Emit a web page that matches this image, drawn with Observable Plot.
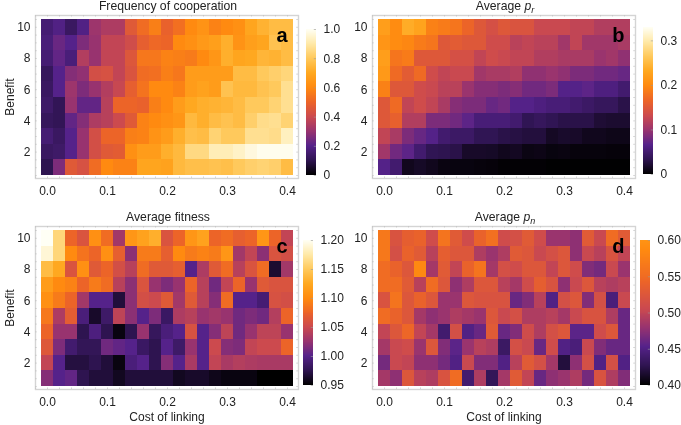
<!DOCTYPE html>
<html><head><meta charset="utf-8">
<script src="https://cdn.jsdelivr.net/npm/d3@7"></script>
<script src="https://cdn.jsdelivr.net/npm/@observablehq/plot@0.6"></script>
<style>
body{margin:0;background:#fff}
#root{position:relative;width:681px;height:425px;overflow:hidden;font-family:"Liberation Sans",sans-serif;color:#222;filter:blur(.35px)}
#root svg{position:absolute;overflow:visible;background:transparent}
.t{position:absolute;font-size:12.2px;text-align:center;white-space:nowrap}
.t sub{font-size:9px;line-height:0;font-style:italic}
</style></head><body><div id="root"></div>
<script>
const costs=[0,.02,.04,.06,.08,.1,.12,.14,.16,.18,.2,.22,.24,.26,.28,.3,.32,.34,.36,.38,.4];
const benefits=[10,9,8,7,6,5,4,3,2,1];
const cooperation=[
[.16,.19,.13,.19,.31,.34,.34,.46,.52,.57,.49,.53,.6,.63,.58,.6,.62,.69,.73,.76,.76],
[.17,.23,.2,.26,.3,.38,.38,.41,.48,.51,.5,.6,.62,.65,.67,.72,.63,.67,.69,.78,.76],
[.16,.22,.17,.35,.3,.38,.38,.45,.55,.55,.58,.57,.56,.6,.64,.72,.69,.7,.74,.73,.76],
[.12,.2,.27,.29,.42,.43,.38,.44,.52,.53,.57,.55,.66,.66,.66,.66,.76,.76,.8,.82,.84],
[.13,.2,.31,.26,.3,.35,.39,.48,.54,.6,.6,.58,.66,.68,.66,.78,.75,.75,.78,.8,.87],
[.14,.11,.3,.22,.22,.36,.5,.5,.49,.57,.6,.66,.7,.72,.73,.74,.76,.8,.8,.83,.87],
[.12,.11,.22,.27,.34,.36,.4,.46,.58,.6,.62,.64,.75,.72,.76,.78,.76,.82,.86,.87,.83],
[.16,.13,.2,.3,.42,.5,.5,.57,.58,.63,.66,.72,.77,.76,.83,.8,.8,.87,.87,.86,.93],
[.13,.14,.2,.3,.42,.46,.47,.62,.66,.66,.72,.75,.85,.85,.92,.92,.94,.97,.99,.99,.99],
[.1,.26,.46,.43,.52,.6,.58,.58,.69,.69,.68,.75,.77,.77,.78,.77,.8,.82,.83,.82,.76]];
const averagePr=[
[.22,.2,.235,.225,.19,.185,.18,.165,.15,.14,.15,.145,.145,.13,.13,.13,.125,.125,.115,.115,.115],
[.21,.2,.195,.185,.18,.15,.155,.15,.15,.135,.135,.12,.125,.12,.12,.105,.125,.105,.105,.105,.11],
[.22,.18,.185,.15,.15,.15,.14,.14,.125,.135,.13,.125,.125,.115,.115,.11,.11,.11,.1,.105,.095],
[.215,.17,.155,.17,.135,.125,.13,.13,.105,.11,.11,.115,.095,.095,.1,.095,.085,.085,.08,.08,.075],
[.19,.15,.15,.135,.13,.12,.12,.1,.09,.09,.085,.09,.08,.08,.085,.065,.065,.07,.06,.06,.05],
[.15,.17,.125,.135,.125,.11,.09,.085,.085,.075,.08,.065,.065,.06,.055,.055,.05,.045,.04,.04,.03],
[.15,.16,.115,.115,.085,.085,.08,.07,.055,.055,.055,.05,.035,.04,.035,.03,.03,.03,.022,.02,.02],
[.125,.11,.085,.075,.065,.05,.045,.045,.035,.035,.03,.028,.025,.025,.015,.018,.017,.012,.012,.01,.01],
[.105,.08,.07,.05,.035,.033,.03,.017,.017,.016,.012,.014,.008,.009,.006,.007,.005,.005,.005,.004,.004],
[.065,.05,.012,.016,.012,.007,.006,.006,.005,.004,.002,.002,.002,.002,.001,.001,.001,.001,.001,.001,.001]];
const fitness=[
[1.2,1.16,1.075,1.06,1.105,1.08,1.03,1.11,1.12,1.13,1.06,1.075,1.11,1.12,1.075,1.08,1.07,1.075,1.11,1.075,1.045],
[1.19,1.16,1.1,1.085,1.075,1.105,1.07,1.02,1.09,1.09,1.07,1.1,1.09,1.095,1.09,1.11,1.03,1.045,1.02,1.06,1.055],
[1.14,1.125,1.06,1.105,1.065,1.075,1.055,1.04,1.08,1.065,1.065,1.07,1,1.035,1.065,1.08,1.04,1.06,1.08,.965,1.03],
[1.115,1.1,1.095,1.075,1.09,1.08,1.04,1.02,1.06,1.025,1.015,1.025,1.075,1.04,1.01,1.045,1.075,1.025,1.065,1.06,1.06],
[1.105,1.09,1.075,1.03,1,1,.968,1.02,1.055,1.05,1.065,1.03,1.065,1.04,1.018,1.08,1,1,.99,1.058,1.055],
[1.088,1.035,1.068,.993,.963,.985,1.043,1.02,1,1.015,.983,1.035,1.04,1.025,1.03,1.025,1.01,1.015,1.01,1.038,1.075],
[1.075,1.025,1.025,.975,.995,.975,.955,.975,1.025,.98,.993,1,1.058,1,1.018,1.043,1.01,1.025,1.043,1.043,1.025],
[1.063,1.015,.988,.978,.978,1.01,1.005,1,.983,.975,1,.985,1.025,1,1.05,1.018,1.015,1.045,1.05,1.05,1.075],
[1.045,1,.97,.97,.975,.968,.955,.993,1,.975,1.018,1,1.033,1,1.045,1.033,1.038,1.035,1.033,1.033,1.033],
[1.018,1,1.005,.975,.968,.968,.96,.968,.968,.968,.968,.96,.963,.963,.958,.955,.955,.955,.95,.95,.95]];
const averagePn=[
[.565,.52,.535,.54,.51,.56,.53,.51,.54,.555,.51,.515,.53,.51,.48,.48,.475,.53,.505,.55,.53],
[.565,.515,.54,.53,.495,.535,.525,.525,.49,.48,.49,.53,.525,.505,.515,.525,.475,.505,.495,.52,.5],
[.55,.54,.525,.585,.485,.53,.5,.54,.56,.485,.515,.51,.525,.525,.5,.525,.51,.47,.465,.505,.48],
[.55,.55,.53,.495,.55,.525,.475,.49,.525,.525,.495,.485,.51,.535,.52,.475,.505,.525,.495,.49,.495],
[.52,.56,.525,.54,.525,.48,.48,.525,.52,.52,.52,.46,.47,.495,.45,.515,.525,.47,.515,.445,.505],
[.55,.54,.525,.485,.475,.48,.49,.485,.48,.525,.505,.515,.49,.49,.495,.485,.505,.52,.52,.49,.46],
[.5,.525,.545,.5,.485,.44,.515,.45,.46,.53,.46,.47,.51,.49,.515,.525,.455,.455,.51,.525,.46],
[.485,.505,.51,.48,.525,.47,.455,.48,.495,.49,.435,.515,.505,.46,.51,.45,.445,.505,.47,.46,.46],
[.465,.505,.5,.475,.475,.465,.45,.505,.47,.47,.45,.495,.53,.515,.485,.42,.475,.515,.45,.515,.45],
[.485,.475,.525,.495,.49,.52,.55,.44,.49,.43,.485,.53,.5,.46,.475,.48,.49,.465,.52,.49,.47]];
const rampStops=[0,.1,.2,.3,.4,.5,.6,.7,.8,.9,1];
const rampColors=["#000000","#2e1450","#55228a","#98336f","#cc4a4e","#ec6428","#ff8a10","#ffa820","#ffc95c","#ffe9a8","#fffff5"];
const ramp=d3.scaleLinear(rampStops,rampColors);
const pnWarp=d3.scaleLinear([0,.25,.5,.75,1],[0,.19,.38,.52,.63]);
const identity=t=>ramp(t),warped=t=>ramp(pnWarp(t));
const font='"Liberation Sans",sans-serif';
const xMajor=[0,.1,.2,.3,.4],yMajor=[2,4,6,8,10];
const xMinor=d3.range(-.02,.42,.02),yMinor=d3.range(.5,11,.5);
const xDom=[-.02,.4183],yDom=[.308,10.756];
const root=document.getElementById("root");

function place(el,l,t){el.style.left=l+"px";el.style.top=t+"px";root.appendChild(el);}
function label(html,cx,y){const d=document.createElement("div");d.className="t";d.innerHTML=html;d.style.transform="translateX(-50%)";place(d,cx,y);}

function panel({grid,domain,letter,left,top,xLab,yLab,interp=identity}){
  const rows=[];
  grid.forEach((r,i)=>r.forEach((v,j)=>rows.push({x:costs[j],y:benefits[i],v})));
  const grey="#bdbdbd";
  const p=Plot.plot({
    width:340,height:214,marginLeft:35,marginRight:42,marginTop:15,marginBottom:36,
    style:{fontFamily:font,fontSize:"12px",color:"#222",background:"transparent"},
    x:{domain:xDom},y:{domain:yDom},
    color:{type:"linear",domain,interpolate:interp,clamp:true},
    marks:[
      Plot.rect(rows,{x1:d=>d.x-.01,x2:d=>d.x+.01,y1:d=>d.y-.5,y2:d=>d.y+.5,fill:"v",shapeRendering:"crispEdges"}),
      Plot.frame({stroke:"#d4d4d4",strokeWidth:1.4}),
      Plot.ruleX(xMinor,{y1:yDom[0],y2:yDom[0]+.1,stroke:grey,strokeWidth:.6}),
      Plot.ruleX(xMinor,{y1:yDom[1],y2:yDom[1]-.1,stroke:grey,strokeWidth:.6}),
      Plot.ruleY(yMinor,{x1:xDom[0],x2:xDom[0]+.003,stroke:grey,strokeWidth:.6}),
      Plot.ruleY(yMinor,{x1:xDom[1],x2:xDom[1]-.003,stroke:grey,strokeWidth:.6}),
      Plot.axisX(xMajor,{anchor:"bottom",tickSize:0,tickPadding:8,tickFormat:".1f",label:xLab||null,labelAnchor:"center",labelArrow:"none",labelOffset:31}),
      Plot.axisY(yMajor,{anchor:"left",tickSize:0,tickPadding:5,tickFormat:d=>d,label:yLab||null,labelAnchor:"center",labelArrow:"none",labelOffset:30}),
      Plot.text([letter],{frameAnchor:"top-right",dx:-11,dy:12,text:d=>d,fontWeight:"bold",fontSize:20,fill:"#000"})
    ]
  });
  place(p,left,top);
}

function colorbar({scaleDomain,barDomain,ticks,fmt,left,top,h,w,interp=identity}){
  const stepsN=d3.range(0,146);
  const lo=barDomain[0],hi=barDomain[1],s=(hi-lo)/146;
  const p=Plot.plot({
    width:w+40,height:h,marginLeft:0,marginRight:40,marginTop:0,marginBottom:0,
    style:{fontFamily:font,fontSize:"12px",color:"#222",background:"transparent"},
    x:{axis:null,domain:[0,1]},y:{domain:barDomain,axis:null},
    color:{type:"linear",domain:scaleDomain,interpolate:interp,clamp:true},
    marks:[
      Plot.rect(stepsN,{x1:0,x2:1,y1:i=>lo+i*s,y2:i=>lo+(i+1.05)*s,fill:i=>lo+(i+.5)*s,shapeRendering:"crispEdges"}),
      Plot.ruleY(ticks,{x1:.78,x2:1,stroke:"#999",strokeWidth:.6}),
      Plot.axisY(ticks,{anchor:"right",tickSize:0,tickPadding:7,tickFormat:fmt,label:null})
    ]
  });
  place(p,left,top);
}

panel({grid:cooperation,domain:[0,1],letter:"a",left:0,top:0,yLab:"Benefit"});
panel({grid:averagePr,domain:[0,.33],letter:"b",left:337,top:0});
panel({grid:fitness,domain:[.95,1.2],letter:"c",left:0,top:211,xLab:"Cost of linking",yLab:"Benefit"});
panel({grid:averagePn,domain:[.4,.6],letter:"d",left:337,top:211,xLab:"Cost of linking",interp:warped});

colorbar({scaleDomain:[0,1],barDomain:[0,1],ticks:[0,.2,.4,.6,.8,1],fmt:d=>d===0?"0":d3.format(".1f")(d),left:306,top:29,h:146,w:10});
colorbar({scaleDomain:[0,.33],barDomain:[0,.33],ticks:[0,.1,.2,.3],fmt:d=>d===0?"0":d3.format(".1f")(d),left:643,top:27,h:147,w:10});
colorbar({scaleDomain:[.95,1.2],barDomain:[.95,1.2],ticks:[.95,1,1.05,1.1,1.15,1.2],fmt:".2f",left:303,top:240,h:145,w:10});
colorbar({scaleDomain:[.4,.6],barDomain:[.4,.6],ticks:[.4,.45,.5,.55,.6],fmt:".2f",left:640,top:240,h:145,w:10,interp:warped});

label("Frequency of cooperation",168,-1);
label("Average <i>p</i><sub>r</sub>",505,-1);
label("Average fitness",168,210);
label("Average <i>p</i><sub>n</sub>",505,210);
</script></body></html>
